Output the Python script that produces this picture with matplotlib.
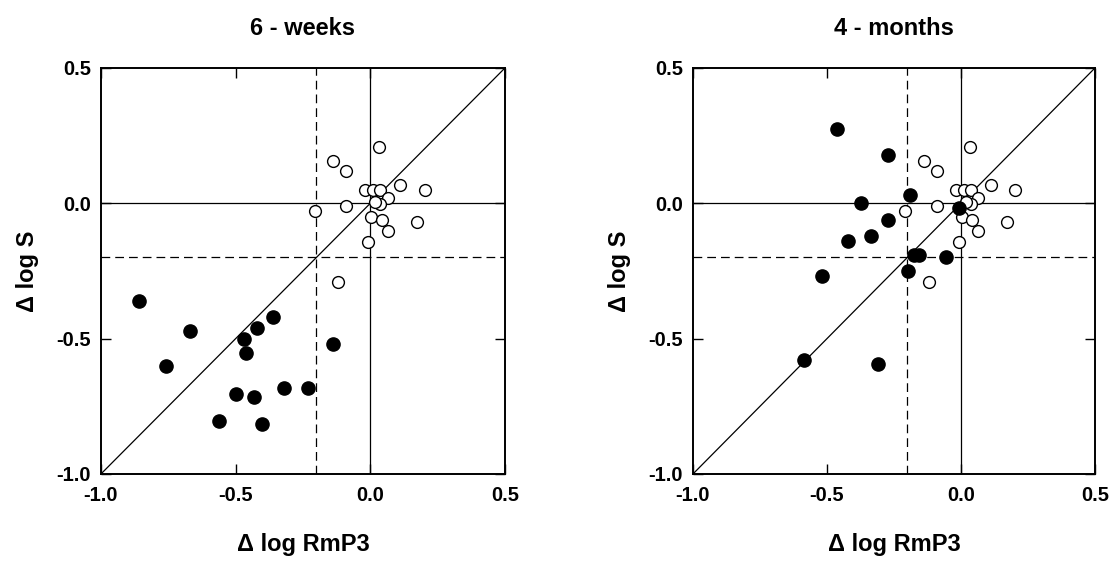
import numpy as np
import matplotlib.pyplot as plt

#! datos
titulos = ['6 - weeks', '4 - months']

#* circulos abiertos (iguales en ambos paneles)
abiertos_x = [0.033, -0.138, -0.090, 0.111, 0.203, -0.020, 0.011, 0.036, 0.065, 0.037,
              0.017, -0.090, -0.207, 0.002, 0.043, 0.172, 0.064, -0.007, -0.121]
abiertos_y = [0.207, 0.158, 0.120, 0.068, 0.048, 0.048, 0.048, 0.048, 0.018, -0.003,
              0.004, -0.009, -0.030, -0.052, -0.063, -0.070, -0.103, -0.142, -0.290]

#* circulos llenos, 6 semanas
llenos_6s_x = [-0.857, -0.669, -0.757, -0.361, -0.420, -0.469, -0.461, -0.139, -0.321,
               -0.233, -0.500, -0.431, -0.561, -0.403]
llenos_6s_y = [-0.361, -0.472, -0.601, -0.420, -0.462, -0.503, -0.553, -0.520, -0.684,
               -0.684, -0.704, -0.715, -0.804, -0.815]

#* circulos llenos, 4 meses
llenos_4m_x = [-0.463, -0.272, -0.192, -0.373, -0.273, -0.334, -0.422, -0.175, -0.155,
               -0.057, -0.197, -0.518, -0.587, -0.308, -0.006]
llenos_4m_y = [0.273, 0.179, 0.032, 0.001, -0.061, -0.120, -0.138, -0.190, -0.190,
               -0.200, -0.250, -0.270, -0.580, -0.593, -0.017]

ticks = [-1.0, -0.5, 0.0, 0.5]


def panel(ax, titulo, llenos_x, llenos_y, con_ylabel=True):
  ax.set_xlim(-1.0, 0.5)
  ax.set_ylim(-1.0, 0.5)

  #* lineas de referencia
  ax.plot([-1.0, 0.5], [-1.0, 0.5], color='black', lw=0.9, zorder=1)
  ax.axhline(0, color='black', lw=0.9, zorder=1)
  ax.axvline(0, color='black', lw=0.9, zorder=1)
  ax.axhline(-0.2, color='black', lw=0.9, dashes=(7, 4), zorder=1)
  ax.axvline(-0.2, color='black', lw=0.9, dashes=(7, 4), zorder=1)

  #* puntos
  ax.plot(abiertos_x, abiertos_y, 'o', ms=8.5, mfc='white', mec='black', mew=1.0, zorder=2)
  ax.plot(llenos_x, llenos_y, 'o', ms=9.5, mfc='black', mec='black', zorder=3)

  #* ejes y etiquetas
  ax.set_xticks(ticks)
  ax.set_yticks(ticks)
  ax.set_xticklabels([f'{t:.1f}' for t in ticks])
  ax.set_yticklabels([f'{t:.1f}' for t in ticks])
  ax.tick_params(direction='in', length=7, width=1, top=True, right=True,
                 labelsize=14.5)
  ax.tick_params(axis='x', pad=9)
  ax.tick_params(axis='y', pad=7)
  for s in ax.spines.values():
    s.set_linewidth(1.4)

  ax.set_title(titulo, fontsize=17, fontweight='bold', pad=24)
  ax.set_xlabel('Δ log RmP3', fontsize=17, fontweight='bold', labelpad=20)
  if con_ylabel:
    ax.set_ylabel('Δ log S', fontsize=17, fontweight='bold', labelpad=13)


def main():
  plt.rcParams.update({
    'font.family': ['Liberation Sans', 'DejaVu Sans'],
    'font.weight': 'bold',
  })

  fig = plt.figure(figsize=(11.13, 5.64), dpi=100)
  ax1 = fig.add_axes([0.0907, 0.1596, 0.3630, 0.7199])
  ax2 = fig.add_axes([0.6226, 0.1596, 0.3612, 0.7199])

  panel(ax1, titulos[0], llenos_6s_x, llenos_6s_y)
  panel(ax2, titulos[1], llenos_4m_x, llenos_4m_y)

  fig.savefig('out.png', dpi=100)


if __name__ == "__main__":
  main()
